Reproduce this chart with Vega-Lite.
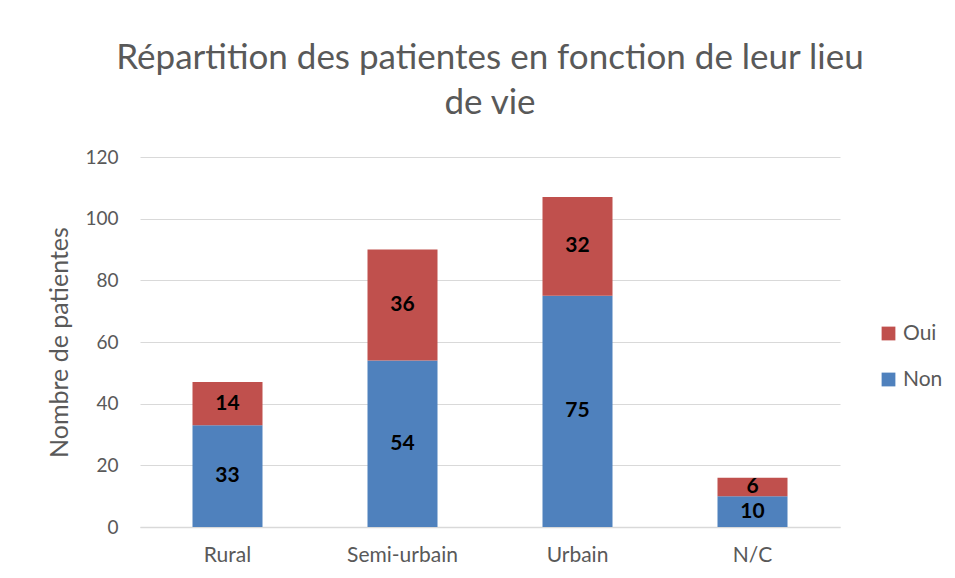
{
  "$schema": "https://vega.github.io/schema/vega-lite/v6.json",
  "autosize": {"type": "none"},
  "padding": {"left": 140, "top": 157, "right": 115, "bottom": 51},
  "width": 700,
  "height": 370,
  "background": "white",
  "config": {
    "font": "Lato",
    "view": {"stroke": null},
    "axis": {"labelFont": "Lato", "titleFont": "Lato", "labelColor": "#595959", "titleColor": "#595959", "labelFontSize": 19, "titleFontSize": 25, "titleFontWeight": "normal", "ticks": false}
  },
  "title": {
    "text": ["Répartition des patientes en fonction de leur lieu", "de vie"],
    "anchor": "middle",
    "frame": "group",
    "font": "Lato",
    "fontSize": 35,
    "fontWeight": "normal",
    "color": "#595959",
    "lineHeight": 45,
    "offset": 27
  },
  "data": {
    "values": [
      {"lieu": "Rural", "serie": "Non", "nombre": 33},
      {"lieu": "Rural", "serie": "Oui", "nombre": 14},
      {"lieu": "Semi-urbain", "serie": "Non", "nombre": 54},
      {"lieu": "Semi-urbain", "serie": "Oui", "nombre": 36},
      {"lieu": "Urbain", "serie": "Non", "nombre": 75},
      {"lieu": "Urbain", "serie": "Oui", "nombre": 32},
      {"lieu": "N/C", "serie": "Non", "nombre": 10},
      {"lieu": "N/C", "serie": "Oui", "nombre": 6}
    ]
  },
  "transform": [
    {"stack": "nombre", "groupby": ["lieu"], "sort": [{"field": "serie", "order": "ascending"}], "as": ["bas", "haut"]}
  ],
  "encoding": {
    "x": {
      "field": "lieu", "type": "nominal", "sort": ["Rural", "Semi-urbain", "Urbain", "N/C"],
      "scale": {"paddingInner": 0.6, "paddingOuter": 0.3},
      "axis": {"title": null, "labelAngle": 0, "labelPadding": 17, "labelFontSize": 21, "domainColor": "#d9d9d9", "domainWidth": 1.5, "grid": false}
    }
  },
  "layer": [
    {
      "mark": {"type": "bar"},
      "encoding": {
        "y": {
          "field": "bas", "type": "quantitative",
          "scale": {"domain": [0, 120]},
          "axis": {"title": "Nombre de patientes", "values": [0, 20, 40, 60, 80, 100, 120], "domain": false, "gridColor": "#d9d9d9", "gridWidth": 1.2, "labelPadding": 22, "titlePadding": 12}
        },
        "y2": {"field": "haut"},
        "color": {
          "field": "serie", "type": "nominal",
          "scale": {"domain": ["Oui", "Non"], "range": ["#C0504D", "#4F81BD"]},
          "legend": {"title": null, "orient": "none", "legendX": 738, "legendY": 166, "symbolType": "square", "symbolSize": 190, "symbolStrokeWidth": 0, "labelFontSize": 21, "labelColor": "#595959", "labelFont": "Lato", "rowPadding": 24, "labelOffset": 4}
        }
      }
    },
    {
      "transform": [
        {"fold": ["bas", "haut"], "as": ["bord", "valeur"]}
      ],
      "mark": {"type": "text", "fontWeight": "bold", "fontSize": 21, "color": "black", "font": "Lato", "baseline": "middle"},
      "encoding": {
        "y": {
          "field": "valeur", "aggregate": "mean", "type": "quantitative",
          "axis": {"title": "Nombre de patientes", "values": [0, 20, 40, 60, 80, 100, 120], "domain": false, "gridColor": "#d9d9d9", "gridWidth": 1.2, "labelPadding": 22, "titlePadding": 12}
        },
        "detail": {"field": "serie", "type": "nominal"},
        "text": {"field": "nombre", "type": "quantitative"}
      }
    }
  ]
}
